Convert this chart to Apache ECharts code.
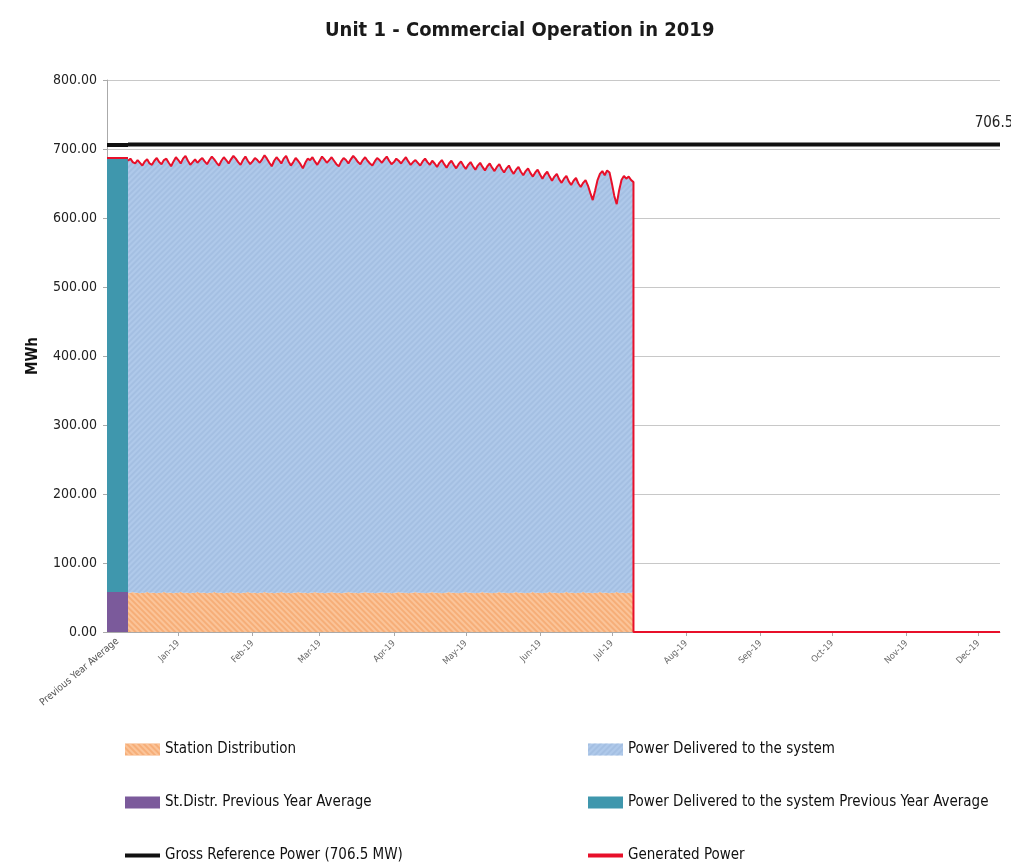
<!DOCTYPE html>
<html><head><meta charset="utf-8">
<script src="https://cdn.jsdelivr.net/npm/echarts@6/dist/echarts.min.js"></script>
<style>html,body{margin:0;padding:0;background:#fff}#c{width:1011px;height:863px}</style>
</head><body><div id="c"></div>
<script>
const titleText = 'Unit 1 - Commercial Operation in 2019';
const prevCategory = ['Previous Year Average'];
const monthLabels = ['Jan-19','Feb-19','Mar-19','Apr-19','May-19','Jun-19','Jul-19','Aug-19','Sep-19','Oct-19','Nov-19','Dec-19'];
const seriesNames = ['Station Distribution','Power Delivered to the system','St.Distr. Previous Year Average','Power Delivered to the system Previous Year Average','Gross Reference Power (706.5 MW)','Generated Power'];

// previous year average column
const prevStDistr = [58];
const prevDelivered = [630];
const prevGenerated = [688];
const grossRef = 706.5;

// daily generated power, 1 Jan - 31 Jul 2019 (MWh)
const generated = [
 683,686,681,679,684,680,676,682,685,679,677,683,687,681,678,684,686,680,675,682,688,684,679,686,690,683,677,681,685,680,684,
 687,682,678,684,689,685,680,676,683,688,684,679,685,690,686,681,677,684,689,683,678,682,687,684,680,685,691,686,
 680,675,683,688,684,679,686,690,682,676,681,687,683,678,672,680,686,684,688,682,677,683,689,685,680,684,688,683,678,675,682,
 687,684,679,685,690,686,681,678,684,688,683,679,676,682,687,684,680,685,689,683,678,681,686,683,679,684,688,682,677,681,
 684,680,676,682,686,681,677,683,679,674,680,684,678,673,679,683,677,672,678,682,676,671,677,681,675,670,676,680,674,669,675,
 679,673,668,674,678,671,666,672,676,669,664,670,674,667,662,668,672,665,660,666,670,663,657,663,667,660,654,660,664,656,
 651,657,661,653,648,654,658,650,645,651,655,647,636,626,640,655,664,668,662,669,666,650,632,620,640,655,661,657,660,655,652
];
// daily station distribution (MWh)
const station = [
 57,57,58,57,57,56,57,57,58,57,57,57,56,57,57,58,57,57,57,56,57,57,58,57,57,57,56,57,57,58,57,
 57,57,56,57,57,58,57,57,57,56,57,57,58,57,57,57,56,57,57,58,57,57,57,56,57,57,58,57,
 57,57,56,57,57,58,57,57,57,56,57,57,58,57,57,57,56,57,57,58,57,57,57,56,57,57,58,57,57,57,56,
 57,57,58,57,57,57,56,57,57,58,57,57,57,56,57,57,58,57,57,57,56,57,57,58,57,57,57,56,57,57,
 58,57,57,57,56,57,57,58,57,57,57,56,57,57,58,57,57,57,56,57,57,58,57,57,57,56,57,57,58,57,57,
 57,56,57,57,58,57,57,57,56,57,57,58,57,57,57,56,57,57,58,57,57,57,56,57,57,58,57,57,57,56,
 57,57,58,57,57,57,56,57,57,58,57,57,57,56,57,57,58,57,57,57,56,57,57,58,57,57,57,56,57,57,58
];
const afterStop = 0; // generated power after unit stop

// date categories for 2019
const dates = [];
for (let m = 0; m < 12; m++) {
  const n = new Date(2019, m + 1, 0).getDate();
  for (let d = 1; d <= n; d++) dates.push('2019-' + String(m + 1).padStart(2, '0') + '-' + String(d).padStart(2, '0'));
}
const delivered = generated.map((g, i) => g - station[i]);
const lastDataDate = dates[generated.length - 1];
const genData = generated.map((g, i) => [dates[i], g]);
genData.push([lastDataDate, afterStop], [dates[dates.length - 1], afterStop]);

const FONT = '"Liberation Sans Narrow","DejaVu Sans Condensed","Liberation Sans",sans-serif';
const labelDay = '22';
const showMonth = (i, v) => v.slice(8) === labelDay;

const orangeDecal = {symbol: 'rect', symbolSize: 1, dashArrayX: [1, 0], dashArrayY: [2, 2], rotation: Math.PI / 4, color: 'rgba(255,215,180,0.55)'};
const blueDecal = {symbol: 'rect', symbolSize: 1, dashArrayX: [1, 0], dashArrayY: [2, 2], rotation: -Math.PI / 4, color: 'rgba(150,180,218,0.45)'};
const lineIcon = 'path://M0,0H35V4H0Z';

const chart = echarts.init(document.getElementById('c'), null, {renderer: 'canvas'});
const legendPos = [[120,737],[583,737],[120,790],[583,790],[120,843],[583,843]];
const legendIcons = ['rect','rect','rect','rect',lineIcon,lineIcon];
const legendH = [12,12,12,12,4,4];
chart.setOption({
  animation: false,
  backgroundColor: '#fff',
  title: {text: titleText, left: 320, top: 16, textStyle: {fontFamily: FONT, fontSize: 20, fontWeight: 'bold', color: '#1a1a1a'}},
  legend: seriesNames.map((n, i) => ({
    data: [{name: n, icon: legendIcons[i]}], left: legendPos[i][0], top: legendPos[i][1],
    itemWidth: 35, itemHeight: legendH[i], itemGap: 4,
    textStyle: {fontFamily: FONT, fontSize: 15, color: '#111'}, selectedMode: false
  })),
  grid: [
    {left: 107, width: 21, top: 80, bottom: 231},
    {left: 128, right: 11, top: 80, bottom: 231}
  ],
  xAxis: [
    {type: 'category', gridIndex: 0, data: prevCategory,
     axisLine: {lineStyle: {color: '#aaa'}}, axisTick: {show: false},
     axisLabel: {rotate: 40, fontSize: 10, color: '#555', fontFamily: FONT, margin: 8}},
    {type: 'category', gridIndex: 1, data: dates, boundaryGap: false,
     axisLine: {lineStyle: {color: '#aaa'}},
     axisTick: {interval: showMonth, length: 4, lineStyle: {color: '#aaa'}},
     axisLabel: {interval: showMonth, rotate: 45, fontSize: 9, color: '#666', fontFamily: FONT, margin: 10,
       formatter: v => monthLabels[parseInt(v.slice(5, 7), 10) - 1]}}
  ],
  yAxis: [
    {type: 'value', gridIndex: 0, min: 0, max: 800, interval: 100,
     name: 'MWh', nameLocation: 'middle', nameGap: 66, nameRotate: 90,
     nameTextStyle: {fontFamily: FONT, fontSize: 15, fontWeight: 'bold', color: '#111'},
     axisLine: {show: true, lineStyle: {color: '#aaa'}}, axisTick: {show: true, length: 4, lineStyle: {color: '#aaa'}},
     axisLabel: {formatter: v => v.toFixed(2), fontFamily: FONT, fontSize: 14, color: '#222', margin: 10},
     splitLine: {lineStyle: {color: '#c8c8c8'}}},
    {type: 'value', gridIndex: 1, min: 0, max: 800, interval: 100,
     axisLine: {show: false}, axisTick: {show: false}, axisLabel: {show: false},
     splitLine: {lineStyle: {color: '#c8c8c8'}}}
  ],
  series: [
    {name: seriesNames[2], type: 'bar', xAxisIndex: 0, yAxisIndex: 0, stack: 'prev', barWidth: '100%',
     data: prevStDistr, itemStyle: {color: '#7b5a9b'}},
    {name: seriesNames[3], type: 'bar', xAxisIndex: 0, yAxisIndex: 0, stack: 'prev', barWidth: '100%',
     data: prevDelivered, itemStyle: {color: '#3f97ad'},
     markLine: {symbol: 'none', silent: true, label: {show: false},
       data: [
         {yAxis: grossRef, lineStyle: {color: '#111', width: 4, type: 'solid'}},
         {yAxis: prevGenerated[0], lineStyle: {color: '#e8102a', width: 2, type: 'solid'}}
       ]}},
    {name: seriesNames[0], type: 'line', xAxisIndex: 1, yAxisIndex: 1, stack: 'day', symbol: 'none',
     data: station, lineStyle: {width: 0}, color: '#f6ae78',
     itemStyle: {color: '#f6ae78', decal: orangeDecal},
     areaStyle: {color: '#f6ae78', opacity: 1}},
    {name: seriesNames[1], type: 'line', xAxisIndex: 1, yAxisIndex: 1, stack: 'day', symbol: 'none',
     data: delivered, lineStyle: {width: 0}, color: '#afc9ea',
     itemStyle: {color: '#afc9ea', decal: blueDecal},
     areaStyle: {color: '#afc9ea', opacity: 1}},
    {name: seriesNames[4], type: 'line', xAxisIndex: 1, yAxisIndex: 1, symbol: 'circle', symbolSize: 0.1, showSymbol: true, color: '#111',
     data: [[dates[0], grossRef], {value: [dates[dates.length - 1], grossRef],
       label: {show: true, position: 'top', distance: 14, offset: [-6, 0], formatter: '706.5', fontFamily: FONT, fontSize: 15, color: '#222'}}],
     lineStyle: {color: '#111', width: 4}, z: 4},
    {name: seriesNames[5], type: 'line', xAxisIndex: 1, yAxisIndex: 1, symbol: 'none', color: '#e8102a',
     data: genData, lineStyle: {color: '#e8102a', width: 2}, z: 5}
  ]
});
</script></body></html>
